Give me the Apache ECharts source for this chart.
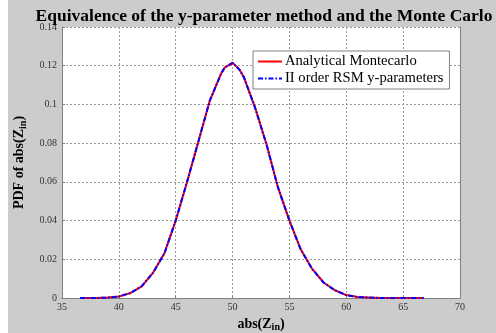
<!DOCTYPE html>
<html>
<head>
<meta charset="utf-8">
<script src="https://cdn.jsdelivr.net/npm/echarts@6/dist/echarts.min.js"></script>
<style>
  html, body { margin: 0; padding: 0; background: #fff; }
  #chart { width: 496px; height: 333px; }
</style>
</head>
<body>
<div id="chart"></div>
<script>
// abs(Zin) values and PDF estimates
const zValues = [36.6, 37, 38, 39, 40, 41, 42, 43, 44, 45, 46, 47, 48, 49, 49.3, 50, 50.6, 51, 52, 53, 54, 55, 56, 57, 58, 59, 60, 61, 62, 63, 64, 65, 66, 66.8];
const pdfMonteCarlo = [0, 0, 0, 0.0002, 0.0008, 0.0025, 0.006, 0.013, 0.023, 0.04, 0.06, 0.081, 0.102, 0.116, 0.119, 0.1215, 0.118, 0.114, 0.098, 0.079, 0.057, 0.04, 0.025, 0.015, 0.008, 0.004, 0.0015, 0.0005, 0.0002, 0, 0, 0, 0, 0];
const pdfRsm = [0, 0, 0, 0.0002, 0.0008, 0.0025, 0.006, 0.013, 0.023, 0.04, 0.06, 0.081, 0.102, 0.116, 0.119, 0.1215, 0.118, 0.114, 0.098, 0.079, 0.057, 0.04, 0.025, 0.015, 0.008, 0.004, 0.0015, 0.0005, 0.0002, 0, 0, 0, 0, 0];

const seriesNames = ["Analytical Montecarlo", "II order RSM y-parameters"];
const serif = "Liberation Serif";

const chart = echarts.init(document.getElementById("chart"));

const gridLine = { show: true, lineStyle: { color: "#9a9a9a", type: [2, 2], width: 1 } };
const axisBox = { show: true, lineStyle: { color: "#808080", width: 1 } };
const nameRich = {
  b: { fontFamily: serif, fontWeight: "bold", fontSize: 14, color: "#000" },
  s: { fontFamily: serif, fontWeight: "bold", fontSize: 10, color: "#000", padding: [8, 0, 0, 0] },
};

chart.setOption({
  backgroundColor: "#cccccc",
  animation: false,
  graphic: [
    { type: "rect", left: 0, top: 0, shape: { width: 8, height: 333 }, style: { fill: "#ffffff" } },
  ],
  title: {
    text: "Equivalence of the y-parameter method and the Monte Carlo",
    left: 259,
    textAlign: "center",
    top: 2,
    textStyle: { fontFamily: serif, fontWeight: "bold", fontSize: 17.5, color: "#000" },
  },
  grid: {
    left: 62, right: 36, top: 27, bottom: 35,
    outerBoundsMode: "none",
    show: true, backgroundColor: "#ffffff", borderWidth: 0,
  },
  legend: {
    orient: "vertical",
    left: 253,
    top: 51,
    padding: [3, 6, 3, 4],
    itemGap: 2,
    itemWidth: 24,
    itemHeight: 14,
    itemStyle: { opacity: 0 },
    backgroundColor: "#ffffff",
    borderColor: "#808080",
    borderWidth: 1,
    borderRadius: 0,
    textStyle: { fontFamily: serif, fontSize: 14.6, color: "#000", padding: [0, 0, 0, -2] },
    data: seriesNames,
  },
  xAxis: [
    {
      type: "value",
      min: 35,
      max: 70,
      interval: 5,
      name: "{b|abs(Z}{s|in}{b|)}",
      nameLocation: "middle",
      nameGap: 15,
      nameTextStyle: { rich: nameRich },
      axisLine: axisBox,
      axisTick: { show: true, inside: true, length: 3, lineStyle: { color: "#808080" } },
      axisLabel: { fontFamily: serif, fontSize: 10, color: "#333", margin: 4 },
      splitLine: gridLine,
    },
    {
      type: "value", position: "top", min: 35, max: 70, interval: 5,
      axisLine: axisBox, axisTick: { show: false }, axisLabel: { show: false }, splitLine: { show: false },
    },
  ],
  yAxis: [
    {
      type: "value",
      min: 0,
      max: 0.14,
      interval: 0.02,
      name: "{b|PDF of abs(Z}{s|in}{b|)}",
      nameLocation: "middle",
      nameGap: 27,
      nameTextStyle: { rich: nameRich },
      axisLine: axisBox,
      axisTick: { show: true, inside: true, length: 3, lineStyle: { color: "#808080" } },
      axisLabel: { fontFamily: serif, fontSize: 10, color: "#333", margin: 5 },
      splitLine: gridLine,
    },
    {
      type: "value", position: "right", min: 0, max: 0.14, interval: 0.02,
      axisLine: axisBox, axisTick: { show: false }, axisLabel: { show: false }, splitLine: { show: false },
    },
  ],
  series: [
    {
      name: seriesNames[0],
      type: "line",
      symbol: "none",
      data: zValues.map((z, i) => [z, pdfMonteCarlo[i]]),
      lineStyle: { color: "#ff0000", width: 2, type: "solid" },
      itemStyle: { color: "#ff0000" },
      z: 2,
    },
    {
      name: seriesNames[1],
      type: "line",
      symbol: "none",
      data: zValues.map((z, i) => [z, pdfRsm[i]]),
      lineStyle: { color: "#0000ff", width: 2, type: [5, 2, 1.5, 2] },
      itemStyle: { color: "#0000ff" },
      z: 3,
    },
  ],
});
</script>
</body>
</html>
